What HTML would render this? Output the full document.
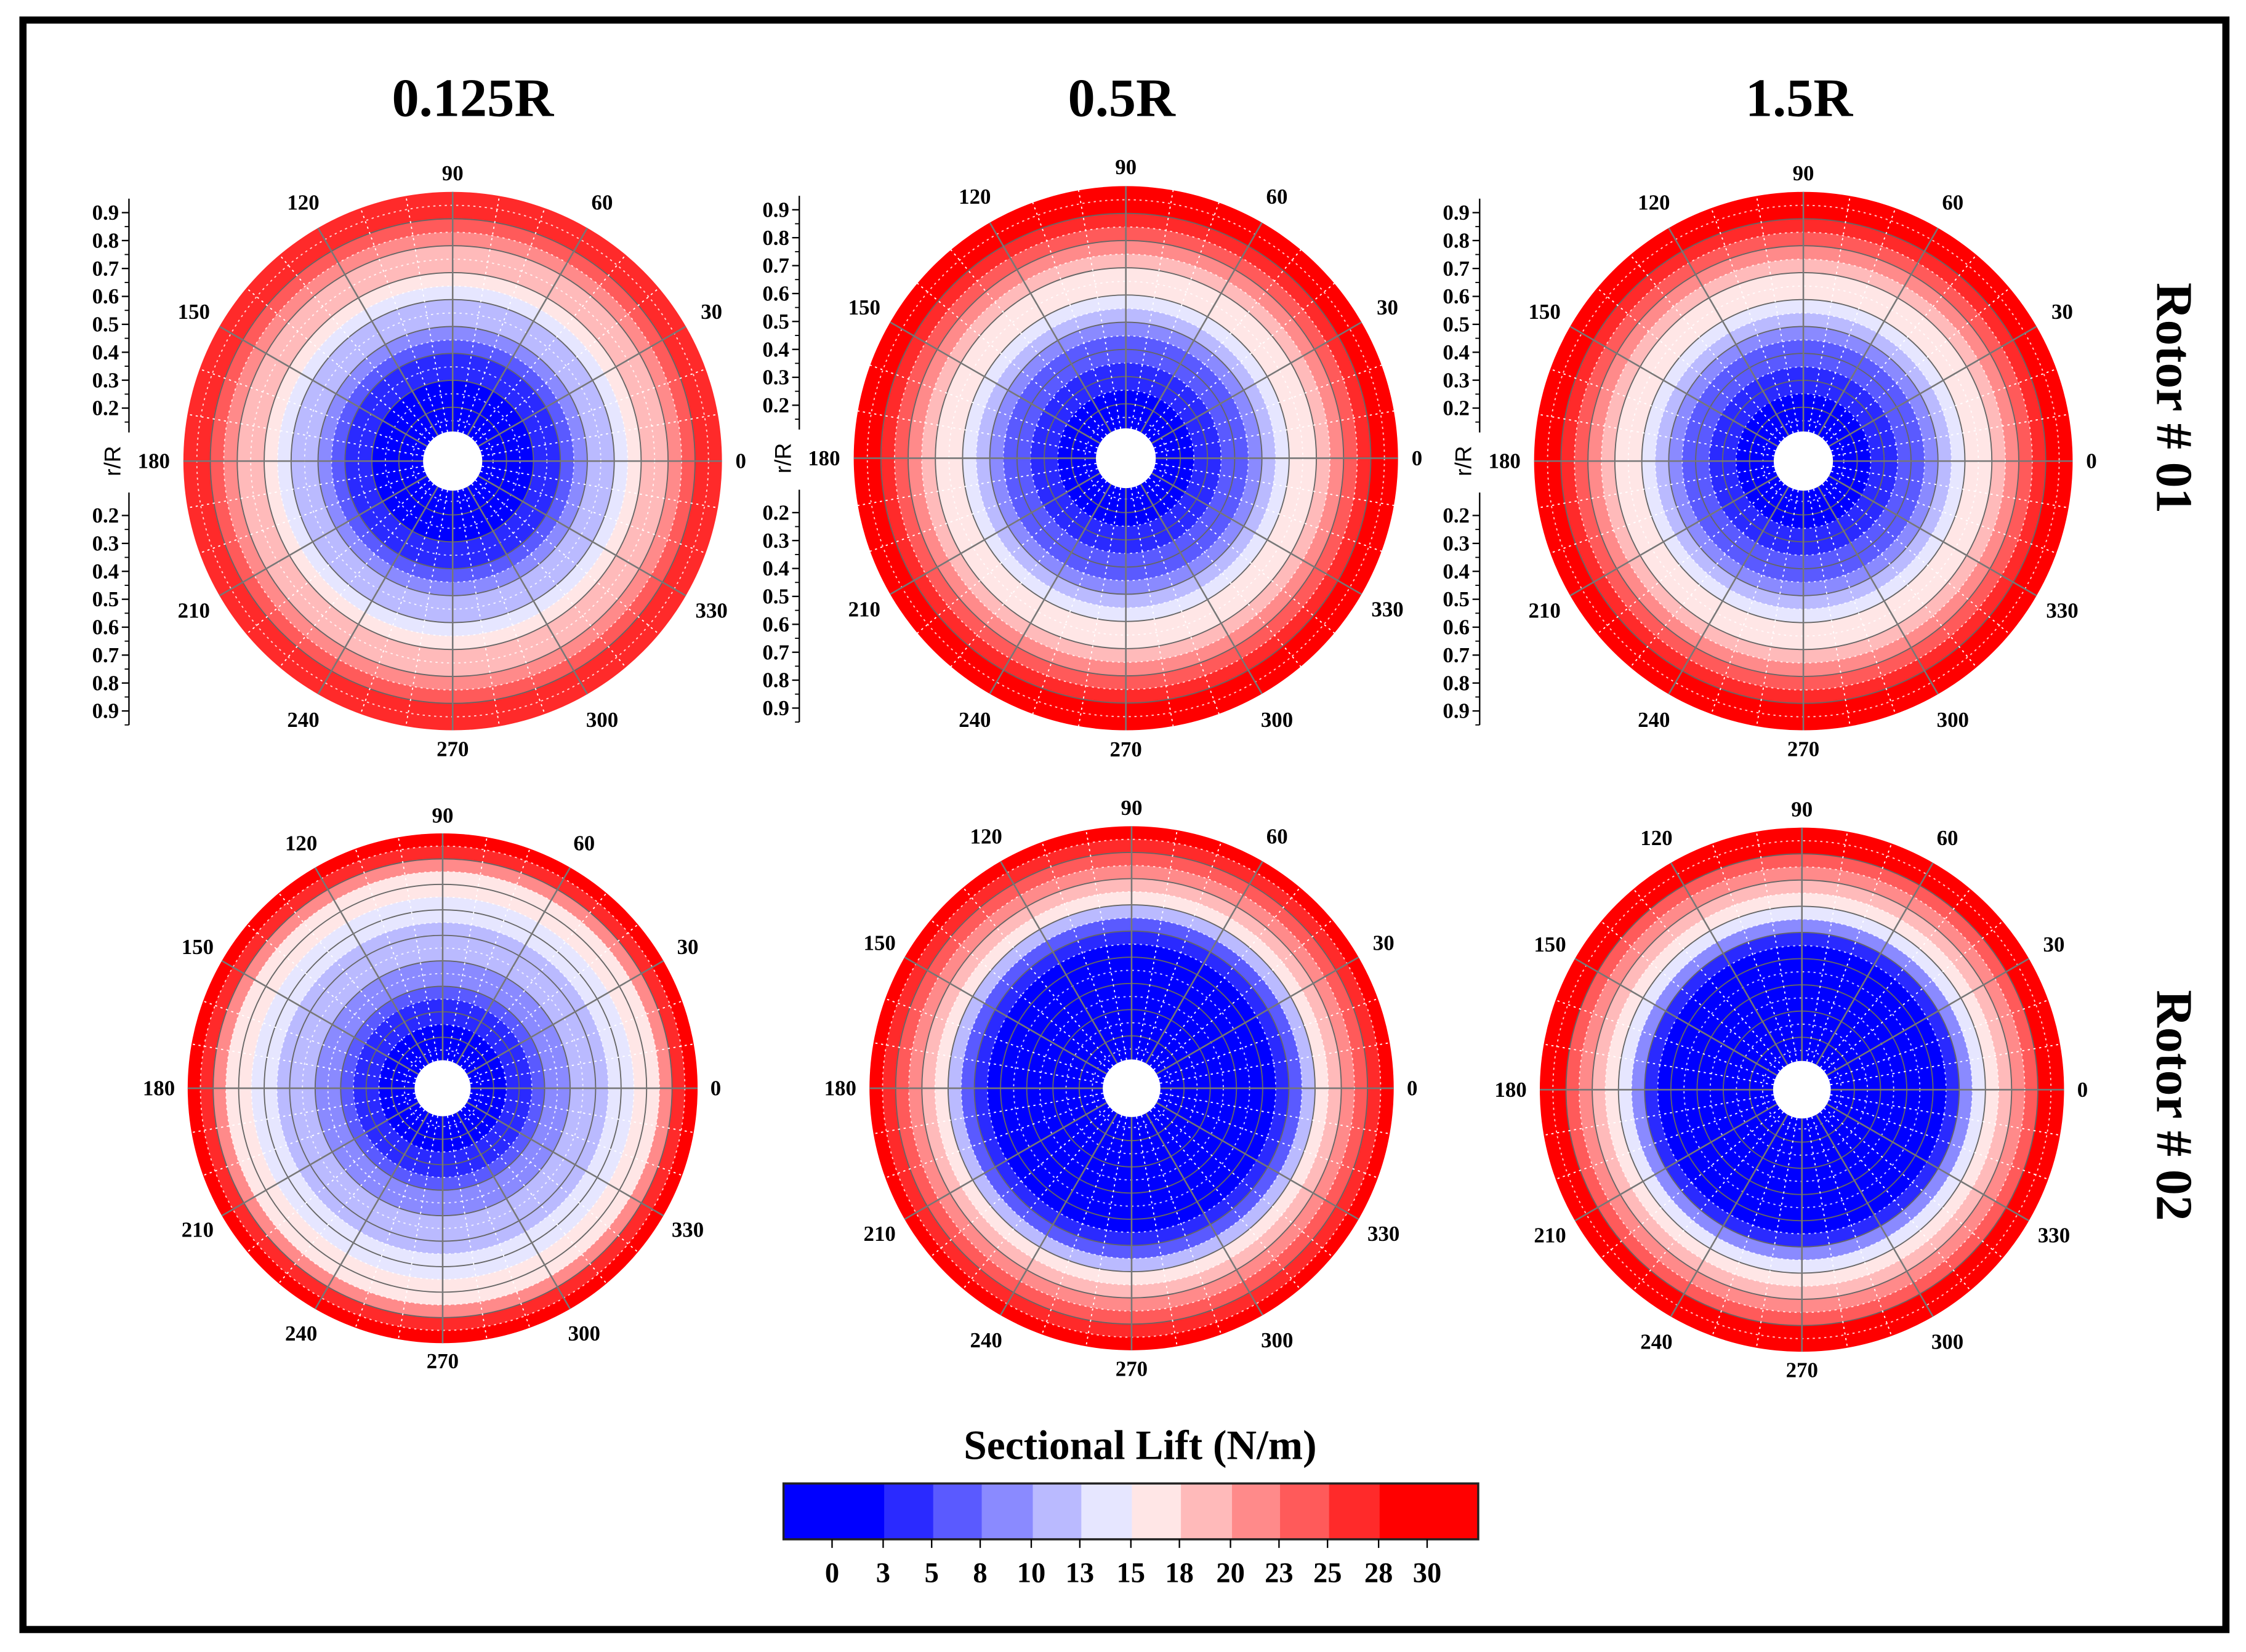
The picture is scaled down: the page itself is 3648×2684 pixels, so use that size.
<!DOCTYPE html>
<html><head><meta charset="utf-8"><style>
html,body{margin:0;padding:0;background:#fff}
svg{display:block}
text{font-family:"Liberation Serif",serif;font-weight:bold;fill:#000}
</style></head><body>
<svg id="fig" width="3648" height="2684" viewBox="0 0 1568 1153.7" xmlns="http://www.w3.org/2000/svg">
<rect x="0" y="0" width="1568" height="1154" fill="#fff"/>
<rect x="16" y="14" width="1538" height="1124" fill="none" stroke="#000" stroke-width="5"/>
<text x="330" y="81" font-size="38" text-anchor="middle">0.125R</text>
<text x="783" y="81" font-size="38" text-anchor="middle">0.5R</text>
<text x="1256" y="81" font-size="38" text-anchor="middle">1.5R</text>
<text transform="translate(1506,278) rotate(90)" font-size="36" text-anchor="middle">Rotor # 01</text>
<text transform="translate(1506,772) rotate(90)" font-size="36" text-anchor="middle">Rotor # 02</text>
<g id="plots"></g>
<g id="cbar"></g>
</svg>
<script>
const NS="http://www.w3.org/2000/svg";
const levelColors=["#0000ff","#2a2aff","#5a5aff","#8a8aff","#babaff","#e6e6ff","#ffe6e6","#ffbaba","#ff8a8a","#ff5a5a","#ff2a2a","#ff0000"];
const thresholds=[3,5,8,10,13,15,18,20,23,25,28];
const tickLabels=["0","3","5","8","10","13","15","18","20","23","25","28","30"];
const ringRadii=[0.125,0.175,0.225,0.275,0.325,0.375,0.425,0.475,0.525,0.575,0.625,0.675,0.725,0.775,0.825,0.875,0.925,0.975];
const liftR1_0125=[1,1,1,2,3,4,6,8,10,12,14,16,18,19,21,23,25,27];
const liftR1_05=[1,1,2,3,4,5,7,9,11,13,15,17,19,21,23,26,29,30];
const liftR1_15=[1,1,2,3,4,5,7,9,11,13,15,17,19,21,23,26,29,30];
const liftR2_0125=[1,1,2,3,4,6,8,9,10,11,12,13,14,15,17,22,27,30];
const liftR2_05=[0,0,0,0,0,0,0,1,2,4,7,12,15,18,20,23,27,30];
const liftR2_15=[0,0,0,0,0,0,1,1,2,4,8,13,16,19,21,24,28,30];
const angleLabels=[0,30,60,90,120,150,180,210,240,270,300,330];
const rTicks=["0.2","0.3","0.4","0.5","0.6","0.7","0.8","0.9"];
const plotDefs=[
 {name:"r1-0125R",cx:316,cy:322,R:188,data:liftR1_0125,axis:90},
 {name:"r1-05R",cx:786,cy:320,R:190,data:liftR1_05,axis:558},
 {name:"r1-15R",cx:1259,cy:322,R:188,data:liftR1_15,axis:1033},
 {name:"r2-0125R",cx:309,cy:760,R:178,data:liftR2_0125,axis:null},
 {name:"r2-05R",cx:790,cy:760,R:183,data:liftR2_05,axis:null},
 {name:"r2-15R",cx:1258,cy:761,R:183,data:liftR2_15,axis:null}
];
function mk(tag,attrs,parent){const e=document.createElementNS(NS,tag);for(const k in attrs)e.setAttribute(k,attrs[k]);parent.appendChild(e);return e;}
function level(v){let i=0;for(const t of thresholds)if(v>=t)i++;return i;}
const plots=document.getElementById("plots");
plotDefs.forEach(p=>{
 const g=mk("g",{},plots);
 
 
 const rad=r=>r*p.R;
 for(let i=ringRadii.length-1;i>=0;i--){
  const c=mk("circle",{cx:p.cx,cy:p.cy,r:rad(ringRadii[i]+0.025),fill:levelColors[level(p.data[i])]},g);
  
  
 }
 for(let k=1;k<20;k+=2){mk("circle",{cx:p.cx,cy:p.cy,r:rad(k*0.05),fill:"none",stroke:"#fff","stroke-width":0.8,"stroke-dasharray":"1.5 2.5",opacity:0.8},g);}
 for(let k=1;k<=9;k++){mk("circle",{cx:p.cx,cy:p.cy,r:rad(k*0.1),fill:"none",stroke:"#666","stroke-width":0.8},g);}
 for(let a=0;a<360;a+=10){
  const t=a*Math.PI/180;const major=a%30===0;
  mk("line",{x1:p.cx+rad(0.11)*Math.cos(t),y1:p.cy-rad(0.11)*Math.sin(t),x2:p.cx+rad(1)*Math.cos(t),y2:p.cy-rad(1)*Math.sin(t),stroke:major?"#777":"#fff","stroke-width":major?1.1:0.8,"stroke-dasharray":major?"none":"1.5 2.5"},g);
 }
 const hole=mk("circle",{cx:p.cx,cy:p.cy,r:rad(0.11),fill:"#fff"},g);
 
 
 angleLabels.forEach(a=>{
  const t=a*Math.PI/180;const off=(a===0||a===180)?1.05:(a===90||a===270)?1.07:1.11;
  const tx=mk("text",{x:p.cx+rad(off)*Math.cos(t),y:p.cy-rad(off)*Math.sin(t)+5,"font-size":15,"text-anchor":a===0?"start":a===180?"end":"middle"},g);
  tx.textContent=a;
  
  
 });
 if(p.axis!==null){
  const ax=mk("g",{},g);
  
  
  const x=p.axis;
  const topY=r=>p.cy-37-(r-0.2)*195;
  const botY=r=>p.cy+38+(r-0.2)*195;
  mk("line",{x1:x,y1:topY(0.95),x2:x,y2:p.cy-20,stroke:"#000","stroke-width":1},ax);
  mk("line",{x1:x,y1:p.cy+22,x2:x,y2:botY(0.95),stroke:"#000","stroke-width":1},ax);
  rTicks.forEach(s=>{
   const r=parseFloat(s);
   [topY(r),botY(r)].forEach(y=>{
    mk("line",{x1:x-5,y1:y,x2:x,y2:y,stroke:"#000","stroke-width":1},ax);
    mk("line",{x1:x-3,y1:y+9.75,x2:x,y2:y+9.75,stroke:"#000","stroke-width":0.8},ax);
    const t=mk("text",{x:x-7,y:y+5,"font-size":15,"text-anchor":"end"},ax);t.textContent=s;
   });
  });
  const lab=mk("text",{transform:`translate(${x-6},${p.cy}) rotate(-90)`,"font-size":16,"text-anchor":"middle",style:"font-family:'Liberation Sans',sans-serif;font-weight:normal"},ax);
  lab.textContent="r/R";
 }
});
const cb=document.getElementById("cbar");


const cbT=mk("text",{x:796,y:1019,"font-size":29,"text-anchor":"middle"},cb);cbT.textContent="Sectional Lift (N/m)";


const bx0=547,bx1=1032,by0=1036,by1=1075;
const bounds=[90,287,383,478,578,673,772,868,968,1062,1158,1257,1450];
const fx=b=>bx0+(b-90)/1360*(bx1-bx0);
levelColors.forEach((c,i)=>{
 const r=mk("rect",{x:fx(bounds[i]),y:by0,width:fx(bounds[i+1])-fx(bounds[i])+0.5,height:by1-by0,fill:c},cb);
 
 
});
mk("rect",{x:bx0,y:by0,width:bx1-bx0,height:by1-by0,fill:"none",stroke:"#222","stroke-width":1.5},cb);
const ticks=[185,285,380,475,575,670,770,865,965,1060,1155,1255,1350];
tickLabels.forEach((s,i)=>{
 const x=fx(ticks[i]);
 mk("line",{x1:x,y1:by1,x2:x,y2:by1+6,stroke:"#000","stroke-width":1},cb);
 const t=mk("text",{x:x,y:1105,"font-size":20,"text-anchor":"middle"},cb);t.textContent=s;
 
 
});
</script>
</body></html>
